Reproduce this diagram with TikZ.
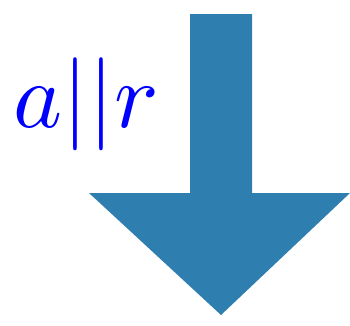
\documentclass[tikz,border=0pt]{standalone}
\definecolor{arrowblue}{RGB}{47,126,176}
\begin{document}
\begin{tikzpicture}[x=1pt,y=1pt]
    \useasboundingbox (0,0) rectangle (350,325);
    % Big down arrow
    \fill[arrowblue] (190,311) -- (252,311) -- (252,132) -- (350,132)
        -- (221,10) -- (89,132) -- (190,132) -- cycle;
    % Label
    \node[blue,scale=9.3,anchor=base,inner sep=0pt] (label) at (86,198) {$a||r$};
\end{tikzpicture}
\end{document}
